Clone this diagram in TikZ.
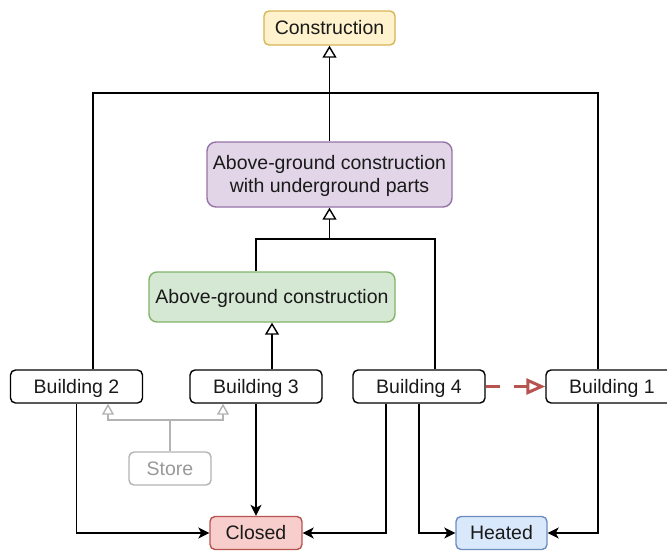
\documentclass[tikz,border=0pt]{standalone}
\usepackage{fontspec}
\setmainfont{Liberation Sans}
\usetikzlibrary{arrows.meta}
\definecolor{yfill}{HTML}{FFF2CC}\definecolor{ydraw}{HTML}{D6B656}
\definecolor{pfill}{HTML}{E1D5E7}\definecolor{pdraw}{HTML}{9673A6}
\definecolor{gfill}{HTML}{D5E8D4}\definecolor{gdraw}{HTML}{82B366}
\definecolor{rfill}{HTML}{F8CECC}\definecolor{rdraw}{HTML}{B85450}
\definecolor{bfill}{HTML}{DAE8FC}\definecolor{bdraw}{HTML}{6C8EBF}
\definecolor{stdraw}{HTML}{B3B3B3}\definecolor{sttext}{HTML}{999999}
\definecolor{txt}{HTML}{1A1A1A}
\begin{document}
\begin{tikzpicture}[x=1pt,y=-1pt,
  box/.style={draw=black, fill=white, line width=1.4pt, rounded corners=5pt, inner sep=0pt,
    minimum height=33pt, text=txt, font=\fontsize{19.5}{23}\selectfont, align=center,
    text height=17.6pt, text depth=4.1pt},
  line/.style={draw=black, line width=1.4pt},
  gen/.style={line, -{Triangle[open, length=12pt, width=14pt, fill=white]}},
  ass/.style={line, -{Stealth[length=11pt, width=11pt, inset=3pt]}},
  grayarr/.style={draw=stdraw, line width=1.4pt, -{Triangle[open, length=11pt, width=12pt, fill=white]}},
  real/.style={draw=rdraw, line width=3pt, dash pattern=on 14pt off 14pt,
    -{Triangle[open, length=19pt, width=16pt, fill=white]}}]
\useasboundingbox (0,0) rectangle (667,550);
\clip (0,0) rectangle (667,550);
% nodes
\node[box, fill=yfill, draw=ydraw, minimum width=131pt, minimum height=34pt] (cons) at (329.5,28) {Construction};
\node[box, fill=pfill, draw=pdraw, minimum width=245pt, minimum height=65pt, rounded corners=9pt, text height=40.6pt] (purple) at (329.5,174.5) {Above-ground construction\\with underground parts};
\node[box, fill=gfill, draw=gdraw, minimum width=246pt, minimum height=50pt, rounded corners=8pt] (green) at (272,297) {Above-ground construction};
\node[box, minimum width=132pt] (b2) at (76.5,386.5) {Building 2};
\node[box, minimum width=132pt] (b3) at (256,386.5) {Building 3};
\node[box, minimum width=132pt] (b4) at (419,386.5) {Building 4};
\node[box, minimum width=132pt] (b1) at (612,386.5) {Building 1};
\node[box, draw=stdraw, text=sttext, minimum width=82pt] (store) at (170,468.5) {Store};
\node[box, fill=rfill, draw=rdraw, minimum width=92pt] (closed) at (256,533) {Closed};
\node[box, fill=bfill, draw=bdraw, minimum width=91pt] (heated) at (501.5,533) {Heated};
% junctions
\coordinate (j1) at (329.5,93);
\coordinate (j2) at (329.5,239);
\coordinate (js) at (170,420);
% generalisations
\draw[line] ([xshift=16.5pt]b2.north) |- (j1);
\draw[line] ([xshift=-14pt]b1.north) |- (j1);
\draw[gen] (purple.north) -- (cons.south);
\draw[line] ([xshift=-16pt]green.north) |- (j2);
\draw[line] ([xshift=16pt]b4.north) |- (j2);
\draw[gen] (j2) -- (purple.south);
\draw[gen] ([xshift=16pt]b3.north) -- ([xshift=16pt]b3.north |- green.south);
% store
\draw[draw=stdraw, line width=1.4pt] (store.north) -- (js);
\draw[grayarr] (js) -| ([xshift=31.5pt]b2.south);
\draw[grayarr] (js) -| ([xshift=-33pt]b3.south);
% associations
\draw[ass] (b2.south) |- (closed.west);
\draw[ass] (b3.south) -- (closed.north);
\draw[ass] ([xshift=-33pt]b4.south) |- (closed.east);
\draw[ass] (b4.south) |- (heated.west);
\draw[ass] ([xshift=-14pt]b1.south) |- (heated.east);
% realisation
\draw[real] (b4.east) -- (b1.west);
\end{tikzpicture}
\end{document}
